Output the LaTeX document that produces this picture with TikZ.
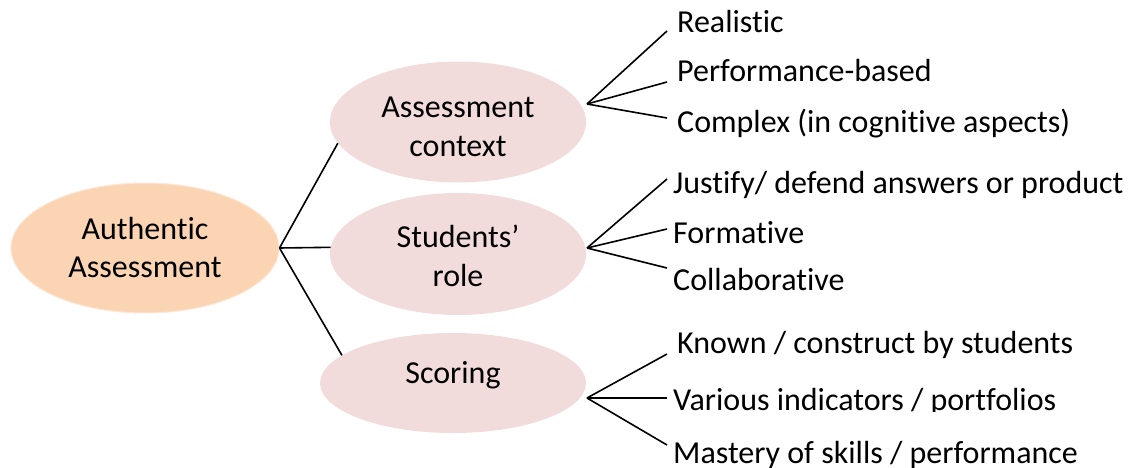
\documentclass[tikz,border=0pt]{standalone}
\usepackage{fontspec}
\setmainfont{Carlito}[Ligatures=NoCommon]
\usetikzlibrary{shapes.geometric}
\definecolor{peach}{HTML}{FBD4B4}
\definecolor{rose}{HTML}{F2DCDB}
\tikzset{
  root/.style={ellipse, fill=peach, draw=peach!55!white, line width=1pt, inner sep=0pt, align=center, font=\fontsize{32}{38}\selectfont},
  sub/.style={ellipse, fill=rose, draw=none, inner sep=0pt, align=center, font=\fontsize{32}{39}\selectfont},
  lbl/.style={anchor=base west, inner sep=0pt, font=\fontsize{32}{38}\selectfont},
  conn/.style={draw=black, line width=1.6pt}
}
\begin{document}
\begin{tikzpicture}[x=1pt,y=-1pt]
\useasboundingbox (0,0) rectangle (1132,468);
% hubs and free ends
\coordinate (h1) at (587,104);
\coordinate (h2) at (587,248);
\coordinate (h3) at (587,398);
\coordinate (r1) at (667,31);
\coordinate (r2) at (667,82);
\coordinate (r3) at (667,118);
\coordinate (s1) at (667,179);
\coordinate (s2) at (667,229);
\coordinate (s3) at (667,268);
\coordinate (k1) at (667,354);
\coordinate (k2) at (667,398);
\coordinate (k3) at (667,445);
% connectors (drawn under ellipses)
\draw[conn] (h1) -- (r1);
\draw[conn] (h1) -- (r2);
\draw[conn] (h1) -- (r3);
\draw[conn] (h2) -- (s1);
\draw[conn] (h2) -- (s2);
\draw[conn] (h2) -- (s3);
\draw[conn] (h3) -- (k1);
\draw[conn] (h3) -- (k2);
\draw[conn] (h3) -- (k3);
% ellipses
\node[root, minimum width=268pt, minimum height=130pt] (auth) at (145,248) {Authentic\\Assessment};
\node[sub, minimum width=256pt, minimum height=121pt] (ctx) at (458,122) {\rule{0pt}{31pt}Assessment\\context};
\node[sub, minimum width=256pt, minimum height=122pt] (stu) at (458,254) {\rule{0pt}{27pt}Students’\\role};
\node[sub, minimum width=266pt, minimum height=100pt] (sco) at (453,383) {\rule[-21pt]{0pt}{21pt}Scoring};
\draw[conn] (auth.east) -- (ctx.190);
\draw[conn] (auth.east) -- (stu.177);
\draw[conn] (auth.east) -- (sco.166);
% labels
\node[lbl] (t1) at (677,33) {Realistic};
\node[lbl] (t2) at (677,82) {Performance-based};
\node[lbl] (t3) at (677,133) {Complex (in cognitive aspects)};
\node[lbl] (t4) at (673,193) {Justify/ defend answers or product};
\node[lbl] (t5) at (673,243) {Formative};
\node[lbl] (t6) at (673,290) {Collaborative};
\node[lbl] (t7) at (677,353) {Known / construct by students};
\node[lbl] (t8) at (673,410) {Various indicators / portfolios};
\node[lbl, fill=white, inner xsep=2pt, text height=51pt] (t9) at (671,463) {Mastery of skills / performance};
\end{tikzpicture}
\end{document}
